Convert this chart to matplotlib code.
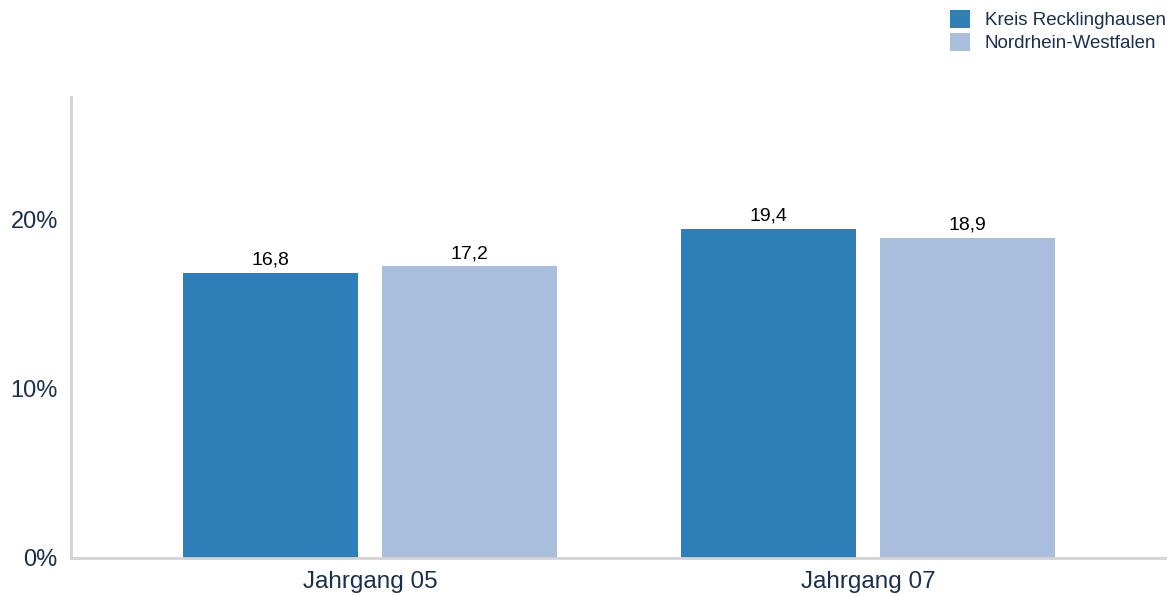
import matplotlib.pyplot as plt
import numpy as np

plt.rcParams['font.family'] = ['Liberation Sans', 'DejaVu Sans']

categories = ["Jahrgang 05", "Jahrgang 07"]
series_names = ["Kreis Recklinghausen", "Nordrhein-Westfalen"]
kreis_values = [16.8, 19.4]
nrw_values = [17.2, 18.9]
y_ticks = [0, 10, 20]
y_tick_labels = ["0%", "10%", "20%"]

colors = ["#2e7fb8", "#a9bedc"]
text_color = "#1b2f4b"

fig = plt.figure(figsize=(11.69, 5.96), dpi=100)
ax = fig.add_axes([0.0607, 0.0638, 0.9359, 0.7735])

x = np.arange(len(categories))
width = 0.351
for vals, off, col, name in [(kreis_values, -0.2, colors[0], series_names[0]),
                             (nrw_values, 0.2, colors[1], series_names[1])]:
    bars = ax.bar(x + off, vals, width, color=col, label=name)
    for b, v in zip(bars, vals):
        ax.text(b.get_x() + b.get_width() / 2, v + 0.25, f"{v:.1f}".replace(".", ","),
                ha="center", va="bottom", fontsize=14, color="black")

ax.set_xlim(-0.6, 1.596)
ax.set_ylim(0, 27.2)
ax.set_yticks(y_ticks)
ax.set_yticklabels(y_tick_labels)
ax.set_xticks(x)
ax.set_xticklabels(categories)
ax.tick_params(length=0, labelcolor=text_color)
ax.tick_params(axis="y", pad=9.5, labelsize=17)
ax.tick_params(axis="x", pad=9.5, labelsize=17.5)

for s in ["top", "right"]:
    ax.spines[s].set_visible(False)
for s in ["left", "bottom"]:
    ax.spines[s].set_color("#d3d3d3")
    ax.spines[s].set_linewidth(2)

fig.legend(loc="upper right", bbox_to_anchor=(1166 / 1169, 1 - 10 / 596), frameon=False,
           fontsize=13.5, handlelength=1.07, handleheight=1.07, handletextpad=0.8,
           labelspacing=0.2, labelcolor=text_color, borderaxespad=0, borderpad=0)

fig.savefig("out.png", dpi=100)
